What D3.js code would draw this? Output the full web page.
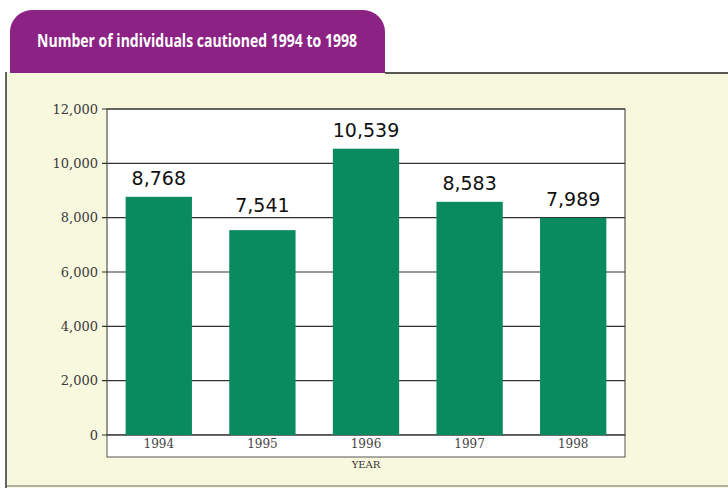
<!DOCTYPE html>
<html lang="en">
<head>
    <meta charset="UTF-8">
    <title>Number of individuals cautioned 1994 to 1998</title>
    <script src="https://d3js.org/d3.v7.min.js"></script>
    <style>
        body{
            margin: 0;
            background-color: white;
        }
        #canvas{
            display: block;
        }
        .ytick text{
            font-family: "DejaVu Serif", serif;
            font-size: 13px;
            fill: #3a3a3a;
        }
        .xtick text{
            font-family: "DejaVu Serif", serif;
            font-size: 12px;
            fill: #444;
        }
        .valueLabel{
            font-family: "DejaVu Sans", sans-serif;
            font-size: 19px;
            fill: #111;
        }
    </style>
</head>
<body>

<svg id="canvas" width="728" height="488"></svg>

<script>
    // data
    let years = ["1994", "1995", "1996", "1997", "1998"];
    let cautioned = [8768, 7541, 10539, 8583, 7989];
    let yTicks = [0, 2000, 4000, 6000, 8000, 10000, 12000];

    let svg = d3.select('#canvas');

    // cream panel + purple tab
    svg.append('rect')
        .attr('x', 6).attr('y', 72)
        .attr('width', 722).attr('height', 416)
        .attr('fill', '#f8f8df');

    let tabPath = d3.path();
    tabPath.moveTo(10, 73);
    tabPath.lineTo(10, 32);
    tabPath.arcTo(10, 10, 32, 10, 22);
    tabPath.lineTo(363, 10);
    tabPath.arcTo(385, 10, 385, 32, 22);
    tabPath.lineTo(385, 73);
    tabPath.closePath();
    svg.append('path')
        .attr('d', tabPath.toString())
        .attr('fill', '#8c2284');

    svg.append('text')
        .attr('x', 37).attr('y', 47)
        .attr('fill', 'white')
        .attr('textLength', 320)
        .attr('lengthAdjust', 'spacingAndGlyphs')
        .style('font-family', '"Open Sans", sans-serif')
        .style('font-size', '18px')
        .style('font-weight', 'bold')
        .text('Number of individuals cautioned 1994 to 1998');

    svg.append('line')
        .attr('x1', 385).attr('x2', 728)
        .attr('y1', 73).attr('y2', 73)
        .attr('stroke', '#222').attr('stroke-width', 1.5);
    svg.append('line')
        .attr('x1', 6).attr('x2', 6)
        .attr('y1', 72).attr('y2', 488)
        .attr('stroke', '#333').attr('stroke-width', 1.5);
    svg.append('line')
        .attr('x1', 6).attr('x2', 728)
        .attr('y1', 486).attr('y2', 486)
        .attr('stroke', '#666').attr('stroke-width', 1);

    // chart
    let plotLeft = 107, plotRight = 625, plotTop = 109, plotBottom = 435;

    let x = d3.scaleBand()
        .domain(years)
        .range([plotLeft, plotRight])
        .paddingInner(0.36)
        .paddingOuter(0.18);

    let y = d3.scaleLinear()
        .domain([0, 12000])
        .range([plotBottom, plotTop]);

    // white plot area and year strip
    svg.append('rect')
        .attr('x', plotLeft).attr('y', plotTop)
        .attr('width', plotRight - plotLeft).attr('height', plotBottom - plotTop)
        .attr('fill', 'white')
        .attr('stroke', '#333').attr('stroke-width', 1);
    svg.append('rect')
        .attr('x', plotLeft).attr('y', plotBottom)
        .attr('width', plotRight - plotLeft).attr('height', 22)
        .attr('fill', 'white')
        .attr('stroke', '#555').attr('stroke-width', 1);

    // gridlines
    svg.append('g')
        .selectAll('line')
        .data(yTicks)
        .enter()
        .append('line')
        .attr('x1', plotLeft - 5).attr('x2', plotRight)
        .attr('y1', function (d){ return y(d); })
        .attr('y2', function (d){ return y(d); })
        .attr('stroke', '#333')
        .attr('stroke-width', 1.2);

    // y axis labels
    let yAxis = d3.axisLeft(y)
        .tickValues(yTicks)
        .tickSize(0)
        .tickPadding(9)
        .tickFormat(d3.format(','));
    let yg = svg.append('g')
        .attr('class', 'ytick')
        .attr('transform', 'translate(' + plotLeft + ',0)')
        .call(yAxis);
    yg.select('.domain').remove();

    // bars
    svg.append('g')
        .selectAll('rect')
        .data(cautioned)
        .enter()
        .append('rect')
        .attr('x', function (d, i){ return x(years[i]); })
        .attr('width', x.bandwidth())
        .attr('y', function (d){ return y(d); })
        .attr('height', function (d){ return y(0) - y(d); })
        .attr('fill', '#0a8a5f');

    // value labels - sit above the bar, moved above a gridline if one would cross the text
    function labelY(d){
        let base = y(d) - 12;
        yTicks.forEach(function (t){
            let gy = y(t);
            if (gy > base - 16 && gy < base + 3) base = gy - 6;
        });
        return base;
    }
    svg.append('g')
        .selectAll('text')
        .data(cautioned)
        .enter()
        .append('text')
        .attr('class', 'valueLabel')
        .attr('text-anchor', 'middle')
        .attr('x', function (d, i){ return x(years[i]) + x.bandwidth() / 2; })
        .attr('y', labelY)
        .text(function (d){ return d3.format(',')(d); });

    // x axis labels
    let xAxis = d3.axisBottom(x).tickSize(0).tickPadding(4);
    let xg = svg.append('g')
        .attr('class', 'xtick')
        .attr('transform', 'translate(0,' + plotBottom + ')')
        .call(xAxis);
    xg.select('.domain').remove();

    svg.append('text')
        .attr('x', (plotLeft + plotRight) / 2).attr('y', 468)
        .attr('text-anchor', 'middle')
        .style('font-family', '"DejaVu Serif", serif')
        .style('font-size', '10px')
        .style('fill', '#333')
        .text('YEAR');

</script>
</body>
</html>
